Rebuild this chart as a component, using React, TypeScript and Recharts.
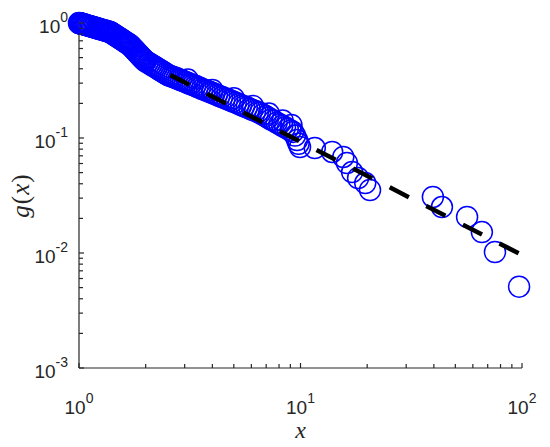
import React from 'react';
import { ScatterChart, Scatter, XAxis, YAxis } from 'recharts';

// g(x) samples (open circles)
const xValues = [
  1.0, 1.005, 1.01, 1.015, 1.02, 1.025, 1.03, 1.04, 1.05, 1.06, 1.07, 1.08, 1.09, 1.1,
  1.115, 1.13, 1.145, 1.16, 1.175, 1.19, 1.205, 1.22, 1.24, 1.26, 1.28, 1.3, 1.32, 1.34, 1.36, 1.38,
  1.4, 1.42, 1.44, 1.46, 1.48, 1.5, 1.52, 1.54, 1.56, 1.58, 1.6, 1.62, 1.64, 1.66, 1.68, 1.7,
  1.72, 1.74, 1.76, 1.78, 1.8, 1.82, 1.84, 1.86, 1.88, 1.9, 1.92, 1.94, 1.96, 1.98, 2.0,
  2.04, 2.08, 2.12, 2.16, 2.2, 2.24, 2.28, 2.32, 2.36, 2.4, 2.45, 2.5,
  2.55, 2.6, 2.65, 2.7, 2.76, 2.82, 2.88, 2.94, 3.0, 3.07, 3.14, 3.2, 3.27,
  3.35, 3.43, 3.51, 3.6, 3.69, 3.78, 3.88, 3.98, 4.08, 4.19, 4.3, 4.42, 4.54, 4.66,
  4.8, 4.95, 5.1, 5.25, 5.4, 5.56, 5.72, 5.89, 6.06, 6.24, 6.42, 6.56,
  6.75, 6.95, 7.15, 7.36, 7.58, 7.8, 8.03, 8.27, 8.51, 8.76, 9.02, 9.25, 9.45, 9.65, 9.8, 9.95,
  3.1, 4.0, 5.0, 6.1, 7.2, 8.3, 9.1,
  11.6, 13.9, 15.6, 16.2, 17.1, 18.2, 19.6, 20.6,
  39.6, 43.5, 56.5, 65.9, 75.5, 97,
];
const gValues = [
  1.0, 0.997, 0.994, 0.992, 0.989, 0.986, 0.983, 0.978, 0.973, 0.968, 0.963, 0.958, 0.953, 0.948,
  0.941, 0.934, 0.927, 0.921, 0.914, 0.907, 0.901, 0.895, 0.887, 0.879, 0.871, 0.863, 0.856, 0.849, 0.842, 0.835,
  0.821, 0.807, 0.793, 0.779, 0.766, 0.753, 0.74, 0.729, 0.718, 0.706, 0.695, 0.684, 0.673, 0.663, 0.653, 0.644,
  0.628, 0.614, 0.6, 0.586, 0.573, 0.56, 0.547, 0.535, 0.524, 0.512, 0.501, 0.491, 0.481, 0.471, 0.465,
  0.454, 0.444, 0.434, 0.424, 0.416, 0.407, 0.398, 0.39, 0.383, 0.375, 0.366, 0.357,
  0.35, 0.345, 0.34, 0.336, 0.33, 0.324, 0.319, 0.314, 0.309, 0.304, 0.298, 0.294, 0.289,
  0.284, 0.278, 0.273, 0.267, 0.262, 0.257, 0.252, 0.247, 0.242, 0.237, 0.232, 0.227, 0.222, 0.218,
  0.213, 0.208, 0.203, 0.198, 0.193, 0.189, 0.185, 0.18, 0.176, 0.172, 0.168, 0.165,
  0.16, 0.155, 0.15, 0.145, 0.141, 0.136, 0.132, 0.128, 0.124, 0.12, 0.116, 0.113, 0.105, 0.096, 0.089, 0.0835,
  0.322, 0.262, 0.222, 0.19, 0.163, 0.142, 0.13,
  0.0818, 0.0756, 0.0684, 0.0606, 0.0506, 0.0449, 0.0406, 0.0353,
  0.0307, 0.0251, 0.0206, 0.0152, 0.0102, 0.0051,
];

// dashed guide line, end points
const fitX = [2.58, 100];
const fitG = [0.353, 0.0096];

const xTicks = [1, 2, 3, 4, 5, 6, 7, 8, 9, 10, 20, 30, 40, 50, 60, 70, 80, 90, 100];
const yTicks = [
  0.001, 0.002, 0.003, 0.004, 0.005, 0.006, 0.007, 0.008, 0.009,
  0.01, 0.02, 0.03, 0.04, 0.05, 0.06, 0.07, 0.08, 0.09,
  0.1, 0.2, 0.3, 0.4, 0.5, 0.6, 0.7, 0.8, 0.9, 1,
];

const points = xValues.map((x, i) => ({ x, g: gValues[i] }));
const fitLine = fitX.map((x, i) => ({ x, g: fitG[i] }));

const AXIS = '#262626';
const TICK_FONT = '"Liberation Sans", Arial, sans-serif';
const MATH_FONT = '"Liberation Serif", "Times New Roman", serif';

const isDecade = (v: number) => Math.abs(Math.log10(v) - Math.round(Math.log10(v))) < 1e-6;
const tickLen = (v: number) => (isDecade(v) ? 5 : 4);

const Power = ({ x, y, exp, anchor }: any) => (
  <text x={x} y={y} textAnchor={anchor} fill={AXIS} fontFamily={TICK_FONT} fontSize={19}>
    10<tspan dy={-11} fontSize={14}>{exp}</tspan>
  </text>
);

const BottomTick = ({ x, y, payload }: any) => {
  const v = payload.value;
  return (
    <g>
      <line x1={x} x2={x} y1={y} y2={y - tickLen(v)} stroke={AXIS} strokeWidth={1.2} />
      {isDecade(v) && <Power x={x} y={y + 46} exp={Math.round(Math.log10(v))} anchor="middle" />}
    </g>
  );
};

const TopTick = ({ x, y, payload }: any) => (
  <line x1={x} x2={x} y1={y} y2={y + tickLen(payload.value)} stroke={AXIS} strokeWidth={1.2} />
);

const LeftTick = ({ x, y, payload }: any) => {
  const v = payload.value;
  return (
    <g>
      <line x1={x} x2={x + tickLen(v)} y1={y} y2={y} stroke={AXIS} strokeWidth={1.2} />
      {isDecade(v) && <Power x={x - 11} y={y + 10} exp={Math.round(Math.log10(v))} anchor="end" />}
    </g>
  );
};

const RightTick = ({ x, y, payload }: any) => (
  <line x1={x} x2={x - tickLen(payload.value)} y1={y} y2={y} stroke={AXIS} strokeWidth={1.2} />
);

const Ring = (p: any) => (
  <circle cx={p.cx} cy={p.cy} r={10.5} fill="none" stroke="#0000ff" strokeWidth={1.5} />
);

const XTitle = (p: any) => {
  const { x, y, width } = p.viewBox;
  return (
    <text x={x + width / 2} y={y + 70} textAnchor="middle" fontFamily={MATH_FONT} fontStyle="italic" fontSize={24} fill={AXIS}>
      x
    </text>
  );
};

const YTitle = (p: any) => {
  const { y, height } = p.viewBox;
  const cy = y + height / 2;
  return (
    <text x={29} y={cy} transform={`rotate(-90, 29, ${cy})`} textAnchor="middle" fontFamily={MATH_FONT} fontSize={25} letterSpacing={1} fill={AXIS}>
      <tspan fontStyle="italic">g</tspan>(<tspan fontStyle="italic">x</tspan>)
    </text>
  );
};

export default function App() {
  return (
    <div style={{ position: 'absolute', left: 0, top: 0, width: 550, height: 447, background: '#fff' }}>
      <ScatterChart width={550} height={447} margin={{ top: 23, right: 28, bottom: 0, left: 0 }}>
        <XAxis
          xAxisId="bottom"
          dataKey="x"
          type="number"
          scale="log"
          domain={[1, 100]}
          ticks={xTicks}
          interval={0}
          height={79}
          tickSize={0}
          tickMargin={0}
          tickLine={false}
          tick={<BottomTick />}
          axisLine={{ stroke: AXIS, strokeWidth: 1.2 }}
          label={{ content: <XTitle /> }}
        />
        <XAxis
          xAxisId="top"
          orientation="top"
          dataKey="x"
          type="number"
          scale="log"
          domain={[1, 100]}
          ticks={xTicks}
          interval={0}
          height={0}
          tickSize={0}
          tickMargin={0}
          tickLine={false}
          tick={<TopTick />}
          axisLine={{ stroke: AXIS, strokeWidth: 1.2 }}
        />
        <YAxis
          yAxisId="left"
          dataKey="g"
          type="number"
          scale="log"
          domain={[0.001, 1]}
          ticks={yTicks}
          interval={0}
          width={79}
          tickSize={0}
          tickMargin={0}
          tickLine={false}
          tick={<LeftTick />}
          axisLine={{ stroke: AXIS, strokeWidth: 1.2 }}
          label={{ content: <YTitle /> }}
        />
        <YAxis
          yAxisId="right"
          orientation="right"
          dataKey="g"
          type="number"
          scale="log"
          domain={[0.001, 1]}
          ticks={yTicks}
          interval={0}
          width={0}
          tickSize={0}
          tickMargin={0}
          tickLine={false}
          tick={<RightTick />}
          axisLine={{ stroke: AXIS, strokeWidth: 1.2 }}
        />
        <Scatter
          data={points}
          xAxisId="bottom"
          yAxisId="left"
          shape={<Ring />}
          isAnimationActive={false}
        />
        <Scatter
          data={fitLine}
          xAxisId="top"
          yAxisId="right"
          line={{ stroke: '#000', strokeWidth: 4.5, strokeDasharray: '21.5 19.6' }}
          shape={() => <g />}
          isAnimationActive={false}
        />
      </ScatterChart>
    </div>
  );
}
